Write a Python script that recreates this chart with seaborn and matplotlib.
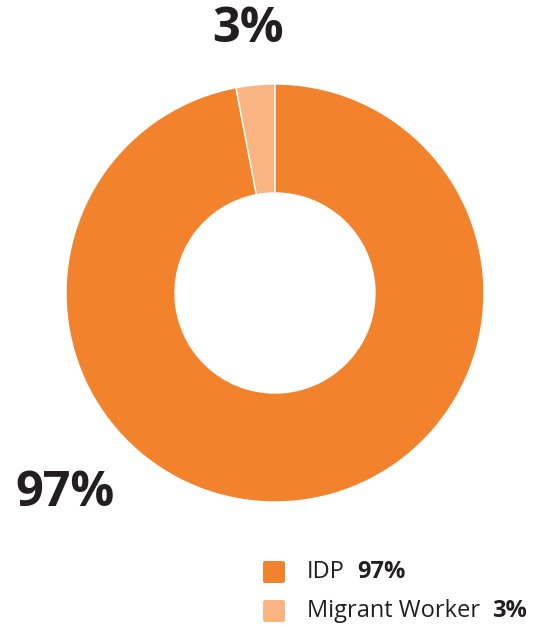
import matplotlib
matplotlib.use("Agg")
import matplotlib.pyplot as plt
from matplotlib.patches import FancyBboxPatch
import seaborn as sns

categories = ["Migrant Worker", "IDP"]
values = [3, 97]
colors = ["#F9B482", "#F3822D"]
legend_order = ["IDP", "Migrant Worker"]

sns.set_theme(style="white")
plt.rcParams['font.family'] = ['Open Sans', 'DejaVu Sans']

W, H = 535, 625
fig = plt.figure(figsize=(W / 100, H / 100), dpi=100)
fig.patch.set_facecolor("white")

cx, cy, r = 275, 293, 209
ax = fig.add_axes([(cx - r) / W, (H - cy - r) / H, 2 * r / W, 2 * r / H])
ax.pie(values, colors=colors, startangle=90, counterclock=True, radius=1,
       wedgeprops=dict(width=1 - 100 / 209, edgecolor="white", linewidth=1))
ax.set_xlim(-1, 1)
ax.set_ylim(-1, 1)
ax.set_aspect("equal")
ax.axis("off")

txt_col = "#231F20"
lbl = {c: f"{v}%" for c, v in zip(categories, values)}
fig.text(248 / W, 1 - 30 / H, lbl["Migrant Worker"], ha="center", va="center",
         fontsize=35, fontweight="bold", color=txt_col)
fig.text(65 / W, 1 - 494 / H, lbl["IDP"], ha="center", va="center",
         fontsize=35, fontweight="bold", color=txt_col)

# legend
fig.canvas.draw()
renderer = fig.canvas.get_renderer()
ys = [572, 611]
for cat, y in zip(legend_order, ys):
    i = categories.index(cat)
    sq = FancyBboxPatch((263 / W, 1 - (y + 11) / H), 22 / W, 22 / H,
                        boxstyle="round,pad=0,rounding_size=0.004",
                        transform=fig.transFigure, facecolor=colors[i],
                        edgecolor="none")
    fig.add_artist(sq)
    t = fig.text(307 / W, 1 - y / H, cat, ha="left", va="center",
                 fontsize=17, color=txt_col)
    bb = t.get_window_extent(renderer)
    fig.text((bb.x1 + 12) / W, 1 - y / H, lbl[cat], ha="left", va="center",
             fontsize=17, fontweight="bold", color=txt_col)

fig.savefig("out.png", dpi=100)
